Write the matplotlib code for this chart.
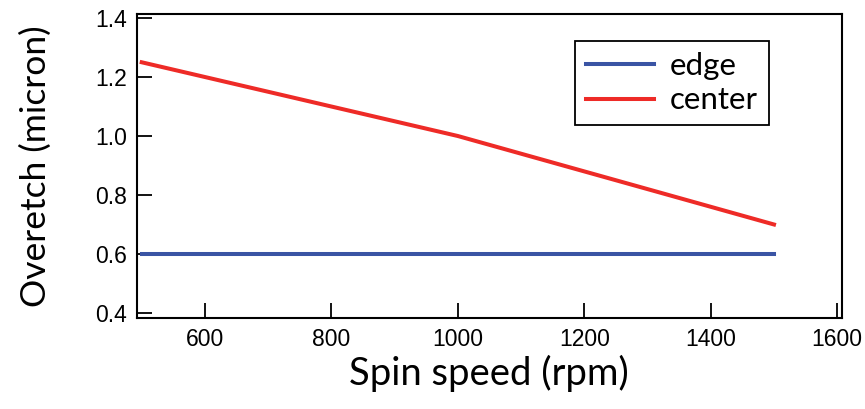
import matplotlib.pyplot as plt

speed = [500, 1000, 1500]
edge = [0.6, 0.6, 0.6]
center = [1.25, 1.0, 0.7]

xticks = [600, 800, 1000, 1200, 1400, 1600]
yticks = [0.4, 0.6, 0.8, 1.0, 1.2, 1.4]

fig = plt.figure(figsize=(8.65, 4.09), dpi=100)
ax = fig.add_axes([0.158, 0.2225, 0.815, 0.7435])

ax.plot(speed, edge, color='#3a54a4', lw=2.9, label='edge')
ax.plot(speed, center, color='#ee2b27', lw=2.9, label='center')

ax.set_xlim(492, 1607)
ax.set_ylim(0.383, 1.414)
ax.set_xticks(xticks)
ax.set_yticks(yticks)
ax.set_yticklabels([f'{v:.1f}' for v in yticks])

ax.tick_params(direction='in', length=11, width=1.3, top=False, right=False,
               labelsize=16.5, pad=7)
for lab in ax.get_xticklabels() + ax.get_yticklabels():
    lab.set_family('Liberation Sans')
for s in ax.spines.values():
    s.set_linewidth(1.5)

ax.set_xlabel('Spin speed (rpm)', fontsize=27.5, family='Lato', labelpad=3)
ax.set_ylabel('Overetch (micron)', fontsize=25.5, family='Lato', labelpad=31)

leg = ax.legend(loc='upper right', bbox_to_anchor=(0.897, 0.91),
                prop={'family': 'Lato', 'size': 22.5}, fancybox=False,
                edgecolor='black', framealpha=1, handlelength=2.2,
                borderpad=0.35, labelspacing=0.2, handletextpad=0.5,
                borderaxespad=0)
leg.get_frame().set_linewidth(1.3)

fig.savefig('out.png', dpi=100)
